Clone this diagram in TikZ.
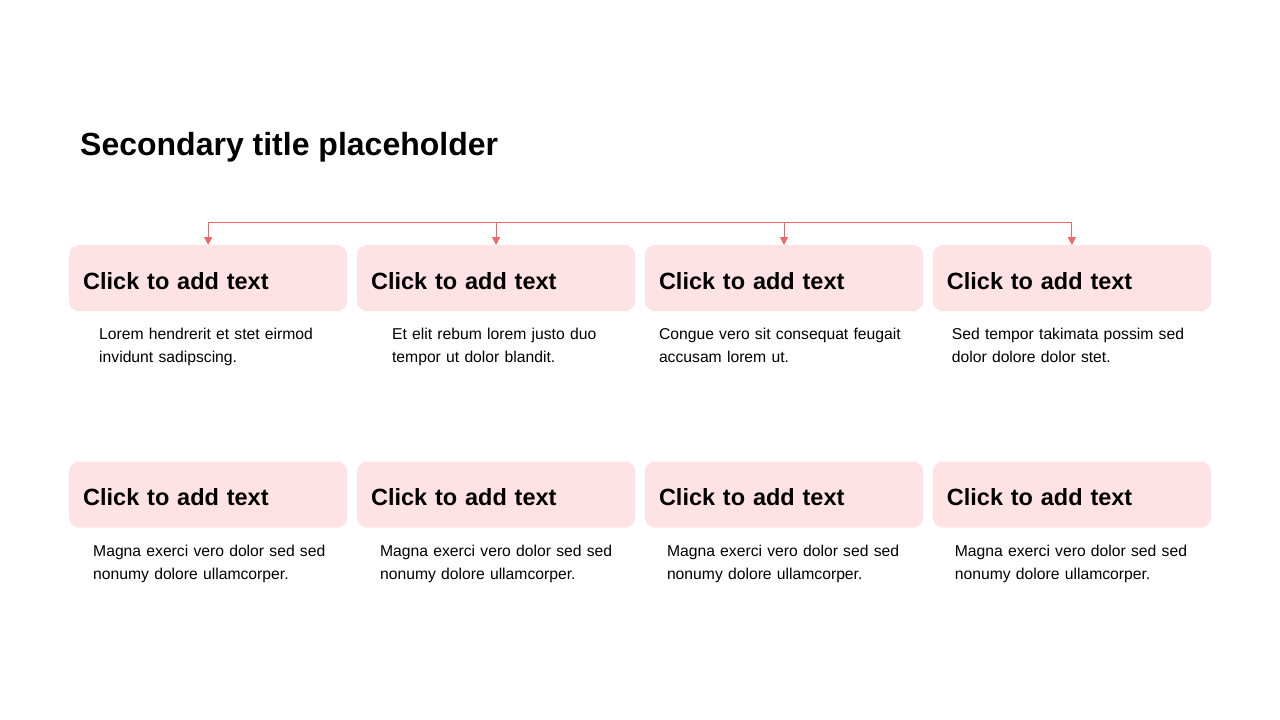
\documentclass[tikz,border=0pt]{standalone}
\usepackage{fontspec}
\setmainfont{Liberation Sans}
\usetikzlibrary{positioning,arrows.meta}
\definecolor{cardpink}{HTML}{FFE2E3}
\definecolor{linkred}{HTML}{F26868}
\begin{document}
\begin{tikzpicture}[x=1pt, y=-1pt, node distance=9.5pt,
    card/.style={rounded corners=10pt, fill=cardpink, minimum height=66pt,
                 text width=250pt, text height=22pt, inner xsep=14pt, align=left,
                 font=\bfseries\fontsize{23.5}{28}\selectfont},
    desc/.style={anchor=north west, inner sep=0pt, text width=250pt, align=left,
                 font=\fontsize{15.7}{23}\selectfont},
    link/.style={color=linkred, line width=0.9pt},
    tip/.style={-{Triangle[width=8pt,length=8pt]}}]
  \useasboundingbox (0,0) rectangle (1280,720);

    \node[anchor=base west, inner sep=0pt, font=\bfseries\fontsize{32}{38}\selectfont]
      (title) at (80,155) {Secondary title placeholder};

    % top row
    \node[card, anchor=north west] (c1) at (69,245) {Click to add text};
    \node[card] (c2) [right=of c1] {Click to add text};
    \node[card] (c3) [right=of c2] {Click to add text};
    \node[card] (c4) [right=of c3] {Click to add text};

    % bottom row
    \node[card] (c5) [below=150pt of c1] {Click to add text};
    \node[card] (c6) [right=of c5] {Click to add text};
    \node[card] (c7) [right=of c6] {Click to add text};
    \node[card] (c8) [right=of c7] {Click to add text};

    \node[desc] (d1) at ([shift={(30,17)}]c1.south west) {Lorem hendrerit et stet eirmod\\invidunt sadipscing.};
    \node[desc] (d2) at ([shift={(35,17)}]c2.south west) {Et elit rebum lorem justo duo\\tempor ut dolor blandit.};
    \node[desc] (d3) at ([shift={(14,17)}]c3.south west) {Congue vero sit consequat feugait\\accusam lorem ut.};
    \node[desc] (d4) at ([shift={(19,17)}]c4.south west) {Sed tempor takimata possim sed\\dolor dolore dolor stet.};
    \node[desc] (d5) at ([shift={(24,17)}]c5.south west) {Magna exerci vero dolor sed sed\\nonumy dolore ullamcorper.};
    \node[desc] (d6) at ([shift={(23,17)}]c6.south west) {Magna exerci vero dolor sed sed\\nonumy dolore ullamcorper.};
    \node[desc] (d7) at ([shift={(22,17)}]c7.south west) {Magna exerci vero dolor sed sed\\nonumy dolore ullamcorper.};
    \node[desc] (d8) at ([shift={(22,17)}]c8.south west) {Magna exerci vero dolor sed sed\\nonumy dolore ullamcorper.};

    \coordinate[above=23pt of c1] (t1);
    \coordinate[above=23pt of c2] (t2);
    \coordinate[above=23pt of c3] (t3);
    \coordinate[above=23pt of c4] (t4);

    \path[link]
    (t1) edge (t4)
    (t1) edge[tip] (c1)
    (t2) edge[tip] (c2)
    (t3) edge[tip] (c3)
    (t4) edge[tip] (c4);
  \end{tikzpicture}
\end{document}
